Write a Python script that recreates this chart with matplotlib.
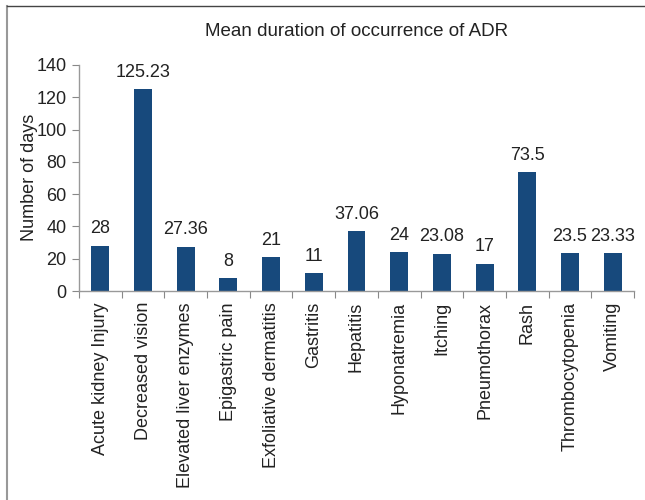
import matplotlib
matplotlib.use("Agg")
import matplotlib.pyplot as plt
from matplotlib.lines import Line2D

categories = ["Acute kidney Injury", "Decreased vision", "Elevated liver enzymes",
              "Epigastric pain", "Exfoliative dermatitis", "Gastritis", "Hepatitis",
              "Hyponatremia", "Itching", "Pneumothorax", "Rash", "Thrombocytopenia",
              "Vomiting"]
values = [28, 125.23, 27.36, 8, 21, 11, 37.06, 24, 23.08, 17, 73.5, 23.5, 23.33]
value_labels = ["28", "125.23", "27.36", "8", "21", "11", "37.06", "24", "23.08",
                "17", "73.5", "23.5", "23.33"]
yticks = [0, 20, 40, 60, 80, 100, 120, 140]
title = "Mean duration of occurrence of ADR"
ylabel = "Number of days"

plt.rcParams['font.family'] = ['Liberation Sans', 'DejaVu Sans']

W, H = 645, 500
fig = plt.figure(figsize=(W / 100, H / 100), dpi=100)
ax = fig.add_axes([79 / W, 1 - 291 / H, (634 - 79) / W, (291 - 65) / H])

bar_color = "#17497c"
x = list(range(len(categories)))
ax.bar(x, values, width=0.42, color=bar_color, zorder=2)

for xi, v, lab in zip(x, values, value_labels):
    ax.annotate(lab, (xi, v), xytext=(0, 6), textcoords="offset points",
                ha="center", va="bottom", fontsize=13, color="#222222")

ax.set_xlim(-0.5, len(categories) - 0.5)
ax.set_ylim(0, 140)
ax.set_yticks(yticks)
ax.tick_params(axis="y", labelsize=13, colors="#888888", labelcolor="#222222",
               length=5, direction="out", pad=4)

ax.set_xticks([i - 0.5 for i in range(len(categories) + 1)])
ax.set_xticklabels([])
ax.set_xticks(x, minor=True)
ax.set_xticklabels(categories, minor=True, rotation=90, fontsize=13,
                   color="#222222", va="top", ha="center")
ax.tick_params(axis="x", which="major", length=5, colors="#888888")
ax.tick_params(axis="x", which="minor", length=0, pad=8)

for s in ["top", "right"]:
    ax.spines[s].set_visible(False)
for s in ["left", "bottom"]:
    ax.spines[s].set_color("#999999")
    ax.spines[s].set_linewidth(1.0)

fig.text(29 / W, 1 - 177 / H, ylabel, rotation=90, ha="center", va="center",
         fontsize=13, color="#222222")
fig.text((79 + 634) / 2 / W, 1 - 32 / H, title, ha="center", va="center",
         fontsize=13.5, color="#222222")

# frame lines (left and top)
fig.add_artist(Line2D([6.5 / W, 6.5 / W], [0, 1 - 6 / H], transform=fig.transFigure,
                      color="#999999", linewidth=1.5))
fig.add_artist(Line2D([6.5 / W, 1], [1 - 6 / H, 1 - 6 / H], transform=fig.transFigure,
                      color="#444444", linewidth=1.0))

fig.savefig("out.png", dpi=100)
